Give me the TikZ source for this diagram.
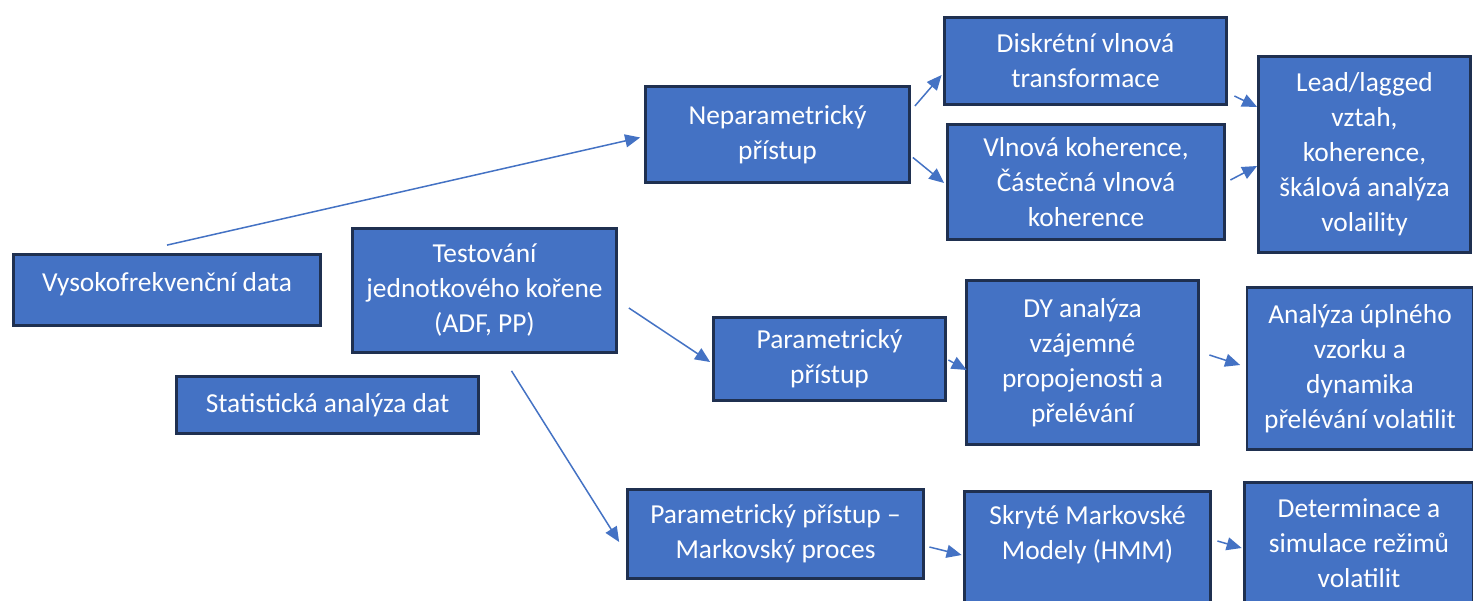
\documentclass[tikz,border=0pt]{standalone}
\usepackage{fontspec}
\setmainfont{Carlito}
\usetikzlibrary{arrows.meta,calc}
\definecolor{boxfill}{HTML}{4472C4}
\definecolor{boxedge}{HTML}{1F3050}
\definecolor{linkblue}{HTML}{4472C4}

\begin{document}
\begin{tikzpicture}[x=0.02cm,y=-0.02cm,
    box/.style={draw=boxedge,fill=boxfill,line width=1.6pt,text=white,align=center,
      font=\fontsize{15.6}{19.9}\selectfont,inner sep=0pt},
    link/.style={draw=linkblue,line width=0.85pt,-{Triangle[length=0.3cm,width=0.26cm]}}]
  \clip (0,0) rectangle (1473,601);
  \fill[white] (0,0) rectangle (1473,601);

  % left part
  \node (vys) [box,minimum width=6.14cm,minimum height=1.42cm] at (167,290) {Vysokofrekvenční data\\[-0.6cm]\strut};
  \node (test) [box,minimum width=5.28cm,minimum height=2.48cm] at (484.5,290.5) {Testování\\jednotkového kořene\\(ADF, PP)};
  \node (stat) [box,minimum width=6.04cm,minimum height=1.14cm] at (327.5,405) {Statistická analýza dat};

  % middle part
  \node (nepar) [box,minimum width=5.28cm,minimum height=1.92cm] at (777.5,134.5) {Neparametrický\\přístup};
  \node (par) [box,minimum width=4.64cm,minimum height=1.66cm] at (829.5,359) {Parametrický\\přístup};
  \node (markov) [box,minimum width=5.92cm,minimum height=1.78cm] at (775.5,534) {Parametrický přístup –\\Markovský proces};

  % methods
  \node (disk) [box,minimum width=5.64cm,minimum height=1.74cm] at (1085.5,61) {Diskrétní vlnová\\transformace};
  \node (vlna) [box,minimum width=5.54cm,minimum height=2.30cm] at (1086,182) {Vlnová koherence,\\Částečná vlnová\\koherence};
  \node (dy) [box,minimum width=4.64cm,minimum height=3.28cm] at (1082.5,362.5) {DY analýza\\vzájemné\\propojenosti a\\přelévání};
  \node (hmm) [box,minimum width=4.92cm,minimum height=2.54cm] at (1087.5,555) {Skryté Markovské\\Modely (HMM)\\\strut};

  % results
  \node (lead) [box,minimum width=4.24cm,minimum height=3.92cm] at (1364.5,154.5) {Lead/lagged\\vztah,\\koherence,\\škálová analýza\\volaility};
  \node (uplny) [box,minimum width=4.52cm,minimum height=3.24cm] at (1360,368.5) {Analýza úplného\\vzorku a\\dynamika\\přelévání volatilit};
  \node (det) [box,minimum width=4.58cm,minimum height=2.42cm] at (1359,543) {Determinace a\\simulace režimů\\volatilit};

  \draw[link] ($(vys.north)+(0,-8)$) -- ($(nepar.west)+(-4,3)$);
  \draw[link] ($(test.east)+(11,17.5)$) -- ($(par.west)+(-2,3)$);
  \draw[link] ($(test.south)+(27,17)$) -- ($(markov.west)+(-7,8)$);
  \draw[link] ($(nepar.east)+(4,-28.5)$) -- ($(disk.west)+(-1.5,14)$);
  \draw[link] ($(nepar.east)+(2,23)$) -- ($(vlna.west)+(-2,1)$);
  \draw[link] ($(disk.east)+(6.5,35)$) -- ($(lead.west)+(0,-47.5)$);
  \draw[link] ($(vlna.east)+(4.5,-2)$) -- ($(lead.west)+(0,11.5)$);
  \draw[link] ($(par.east)+(1.5,1)$) -- ($(dy.west)+(1.5,7.5)$);
  \draw[link] ($(dy.east)+(9.5,-7.5)$) -- ($(uplny.west)+(-5.5,-3.5)$);
  \draw[link] ($(markov.east)+(4.5,13)$) -- ($(hmm.west)+(-1.5,0)$);
  \draw[link] ($(hmm.east)+(5.5,-14)$) -- ($(det.west)+(-1.5,5)$);
\end{tikzpicture}
\end{document}
